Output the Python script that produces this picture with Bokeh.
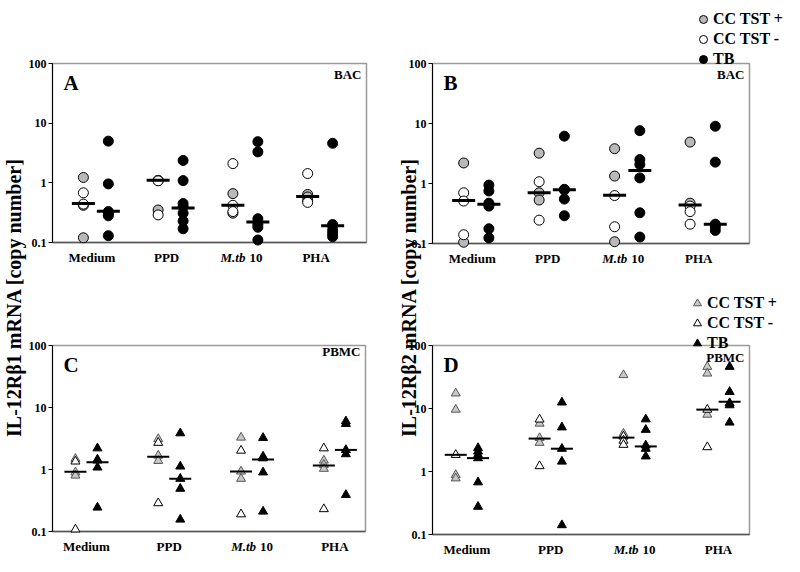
from bokeh.plotting import figure
from bokeh.models import (Range1d, FixedTicker, NumeralTickFormatter, Label, LogAxis,
                          LogScale, Legend, LegendItem, ColumnDataSource)
from bokeh.embed import file_html
from bokeh.resources import INLINE

FONT = "Liberation Serif"

categories = ["Medium", "PPD", "M.tb 10", "PHA"]
y_ticks = [0.1, 1, 10, 100]

# ---- Panel A (BAC, IL-12Rb1) ----
A_cc_pos = [[1.23, 0.42, 0.12], [1.1, 0.35], [0.66, 0.31], [0.64, 0.58, 0.50]]
A_cc_neg = [[0.68, 0.44], [1.1, 1.08, 0.29], [2.1, 0.42, 0.33], [1.43, 0.47]]
A_tb = [[5.0, 0.96, 0.33, 0.30, 0.28, 0.13],
        [2.37, 1.09, 0.45, 0.40, 0.31, 0.23, 0.17],
        [4.9, 3.3, 0.25, 0.20, 0.18, 0.11],
        [4.6, 0.20, 0.19, 0.16, 0.14, 0.125]]
A_med_cc = [0.45, 1.1, 0.42, 0.59]
A_med_tb = [0.335, 0.38, 0.22, 0.19]

# ---- Panel B (BAC, IL-12Rb2) ----
B_cc_pos = [[2.2, 0.105], [3.2, 0.70, 0.53], [3.8, 1.33, 0.107], [4.9, 0.47]]
B_cc_neg = [[0.70, 0.51, 0.14], [1.07, 0.245], [0.63, 0.19], [0.42, 0.34, 0.21]]
B_tb = [[0.94, 0.75, 0.47, 0.42, 0.176, 0.124],
        [6.15, 0.80, 0.78, 0.55, 0.29],
        [7.6, 2.5, 2.07, 1.24, 0.325, 0.128],
        [9.0, 2.27, 0.21, 0.19, 0.165]]
B_med_cc = [0.52, 0.70, 0.64, 0.44]
B_med_tb = [0.45, 0.79, 1.65, 0.21]

# ---- Panel C (PBMC, IL-12Rb1) ----
C_cc_pos = [[1.49, 0.9, 0.8], [3.1, 1.68, 1.38], [3.28, 0.93, 0.71], [1.4, 1.19, 1.03]]
C_cc_neg = [[1.35, 0.108], [2.7, 0.287], [2.02, 0.19], [2.2, 0.23]]
C_tb = [[2.2, 1.45, 1.4, 1.08, 0.244],
        [3.85, 1.12, 0.71, 0.49, 0.156],
        [3.24, 1.62, 1.52, 0.9, 0.21],
        [6.0, 5.45, 2.07, 1.77, 0.39]]
C_med_cc = [0.92, 1.6, 0.93, 1.16]
C_med_tb = [1.31, 0.71, 1.45, 2.07]

# ---- Panel D (PBMC, IL-12Rb2) ----
D_cc_pos = [[17.4, 9.6, 0.88, 0.78], [5.77, 3.4, 2.86], [34, 4.0], [46, 36, 8.0]]
D_cc_neg = [[1.84], [6.7, 1.22], [3.6, 3.1, 2.66], [9.6, 2.44]]
D_tb = [[2.36, 2.08, 1.84, 1.63, 0.675, 0.276],
        [12.5, 5.03, 2.3, 1.44, 0.141],
        [6.75, 4.6, 2.6, 2.3, 1.74],
        [46, 18.4, 12.2, 11.3, 6.0]]
D_med_cc = [1.84, 3.33, 3.45, 9.6]
D_med_tb = [1.63, 2.3, 2.5, 12.8]

legend_labels = ["CC TST +", "CC TST -", "TB"]
ylabel_1 = "IL-12R\u03b21 mRNA [copy number]"
ylabel_2 = "IL-12R\u03b22 mRNA [copy number]"

W, H = 784, 556
M = 8  # page margin


def page(px, py):
    """page pixel -> coordinates of the default (pixel-like) ranges"""
    return px - M, H - (py - M)


p = figure(width=W, height=H, output_backend="svg", toolbar_location=None,
           x_range=Range1d(0, W), y_range=Range1d(0, H),
           x_axis_type=None, y_axis_type=None, min_border=0)
p.outline_line_color = None
p.background_fill_color = "white"
p.border_fill_color = "white"

AB_X = (-0.58, 3.62)
CD_X = (-0.41, 3.37)

panels = [
    dict(name="A", site="BAC", box=(60, 374, 71, 250), xr=AB_X, off=0.167, marker="circle",
         data=(A_cc_pos, A_cc_neg, A_tb, A_med_cc, A_med_tb), dash=(23, 3), site_dy=11, lab_dx=-4),
    dict(name="B", site="BAC", box=(440, 757, 71, 251), xr=AB_X, off=0.167, marker="circle",
         data=(B_cc_pos, B_cc_neg, B_tb, B_med_cc, B_med_tb), dash=(23, 3), site_dy=11, lab_dx=-4),
    dict(name="C", site="PBMC", box=(60, 373, 353, 539), xr=CD_X, off=0.133, marker="triangle",
         data=(C_cc_pos, C_cc_neg, C_tb, C_med_cc, C_med_tb), dash=(22, 2), site_dy=6, lab_dx=0),
    dict(name="D", site="PBMC", box=(440, 757, 353, 542), xr=CD_X, off=0.133, marker="triangle",
         data=(D_cc_pos, D_cc_neg, D_tb, D_med_cc, D_med_tb), dash=(22, 2), site_dy=12, lab_dx=0),
]

extra_x, extra_y, extra_ys = {}, {}, {}
for pn in panels:
    x0, x1, yt, yb = pn["box"]
    xr = pn["xr"]
    fx0, fx1 = x0 - M, x1 - M
    ppu = (fx1 - fx0) / (xr[1] - xr[0])
    xs = xr[0] - fx0 / ppu
    extra_x[pn["name"]] = Range1d(xs, xs + W / ppu)
    ft, fb = yt - M, yb - M
    ppd = (fb - ft) / 3.0
    extra_y[pn["name"]] = Range1d(10 ** (-1 - (H - fb) / ppd), 10 ** (2 + ft / ppd))
    extra_ys[pn["name"]] = LogScale()
p.extra_x_ranges = extra_x
p.extra_y_ranges = extra_y
p.extra_y_scales = extra_ys


def xy(groups, off):
    xs, ys = [], []
    for i, vals in enumerate(groups):
        for v in vals:
            xs.append(i + off)
            ys.append(v)
    return dict(x=xs, y=ys)


def txt(x, y, text, size, style="bold", align="left", baseline="middle", **kw):
    return Label(x=x, y=y, text=text, text_font=FONT, text_font_style=style,
                 text_font_size=size, text_align=align, text_baseline=baseline,
                 text_color="black", **kw)


renderers = {}
for pn in panels:
    n = pn["name"]
    xr = pn["xr"]
    x0, x1, yt, yb = pn["box"]
    rn = dict(x_range_name=n, y_range_name=n)
    cc_pos, cc_neg, tb, med_cc, med_tb = pn["data"]
    off = pn["off"]
    msize = 10 if pn["marker"] == "circle" else 9

    # panel box
    p.quad(left=[xr[0]], right=[xr[1]], bottom=[0.1], top=[100], fill_color=None,
           line_color="#9a9a9a", line_width=1.5, **rn)
    p.segment(x0=[xr[0]], x1=[xr[1]], y0=[0.1], y1=[0.1], line_color="#555555",
              line_width=1.5, **rn)

    if pn["marker"] == "circle":
        pos_kw = dict(fill_color="#b9b9b9", line_color="black")
    else:
        pos_kw = dict(fill_color="#c8c8c8", line_color="#555555")
    r_pos = p.scatter("x", "y", source=ColumnDataSource(xy(cc_pos, -off)),
                      marker=pn["marker"], size=msize, line_width=1, **pos_kw, **rn)
    r_neg = p.scatter("x", "y", source=ColumnDataSource(xy(cc_neg, -off)),
                      marker=pn["marker"], size=msize, line_width=1,
                      fill_color="white", line_color="black", **rn)
    r_tb = p.scatter("x", "y", source=ColumnDataSource(xy(tb, off)),
                     marker=pn["marker"], size=msize, line_width=1,
                     fill_color="black", line_color="black", **rn)
    renderers[n] = (r_pos, r_neg, r_tb)
    mx = [i - off for i in range(len(med_cc))] + [i + off for i in range(len(med_tb))]
    p.scatter(mx, list(med_cc) + list(med_tb), marker="dash", size=pn["dash"][0],
              line_width=pn["dash"][1], line_color="black", **rn)

    # y axis of the panel
    ax = LogAxis(fixed_location=xr[0], bounds=(0.1, 100),
                 ticker=FixedTicker(ticks=y_ticks),
                 formatter=NumeralTickFormatter(format="0.[0]"), **rn)
    ax.axis_line_color = "black"
    ax.major_tick_out = 4
    ax.major_tick_in = 0
    ax.minor_tick_out = 0
    ax.minor_tick_in = 0
    ax.major_label_standoff = 2
    ax.major_label_text_font = FONT
    ax.major_label_text_font_style = "bold"
    ax.major_label_text_font_size = "12px"
    ax.major_label_text_color = "black"
    p.add_layout(ax, "left")

    # panel letter and site
    lx, ly = page(x0 + 11, yt + 19)
    p.add_layout(txt(lx, ly, n, "21px"))
    sx, sy = page(x1 - 5, yt + pn["site_dy"])
    p.add_layout(txt(sx, sy, pn["site"], "13px", align="right"))

    # category labels
    _, cy = page(0, yb + 15)
    for i, c in enumerate(categories):
        if c.startswith("M.tb"):
            p.add_layout(txt(i, cy, "M.tb", "13px", style="bold italic", align="right",
                             x_offset=pn["lab_dx"] + 4, x_range_name=n))
            p.add_layout(txt(i, cy, "10", "13px", align="left",
                             x_offset=pn["lab_dx"] + 8, x_range_name=n))
        else:
            p.add_layout(txt(i, cy, c, "13px", align="center",
                             x_offset=pn["lab_dx"], x_range_name=n))


def add_legend(rs, left_px, top_px):
    vx, vy = page(left_px, top_px + 60)
    leg = Legend(items=[LegendItem(label=legend_labels[k], renderers=[rs[k]]) for k in range(3)],
                 location=(vx, vy), orientation="vertical",
                 glyph_width=20, glyph_height=20, label_height=20,
                 label_standoff=0, spacing=0, padding=0, margin=0,
                 border_line_color=None, background_fill_alpha=0,
                 label_text_font=FONT, label_text_font_style="bold",
                 label_text_font_size="16px", label_text_color="black")
    p.add_layout(leg)


add_legend(renderers["B"], 701, 17)
add_legend(renderers["D"], 695, 301)

# big y-axis titles
for text, px in ((ylabel_1, 21), (ylabel_2, 416)):
    tx, ty = page(px, 305)
    p.add_layout(txt(tx, ty, text, "20px", align="center", angle=90, angle_units="deg"))

open("out.html", "w").write(file_html(p, INLINE))
